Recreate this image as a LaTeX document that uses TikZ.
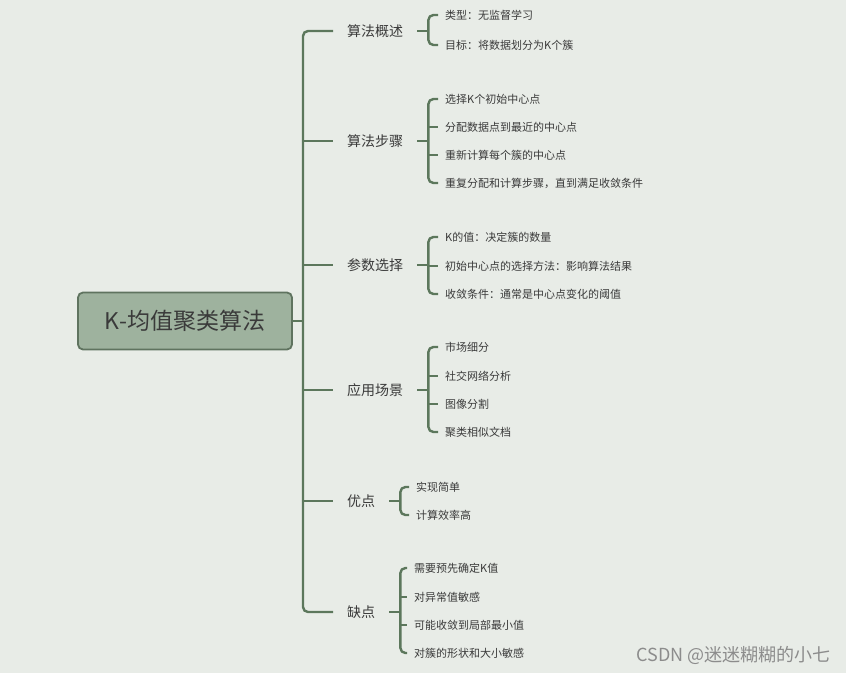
\documentclass[tikz,border=0pt]{standalone}
\usepackage{fontspec}
\setmainfont{Noto Sans CJK SC}
\definecolor{bgC}{HTML}{E8ECE7}
\definecolor{lineC}{HTML}{5C775C}
\definecolor{rootF}{HTML}{9EB29E}
\definecolor{rootD}{HTML}{5F735F}
\definecolor{txtC}{HTML}{3A3A3A}
\begin{document}
\begin{tikzpicture}[x=1pt,y=-1pt,
  br/.style={draw=lineC, line width=2.4pt, rounded corners=5pt},
  mainlbl/.style={anchor=west, inner sep=0pt, font=\fontsize{14}{16}\selectfont, text=txtC},
  leaf/.style={anchor=west, inner sep=0pt, font=\fontsize{11}{13}\selectfont, text=txtC},
  rootbox/.style={draw=rootD, line width=1.8pt, fill=rootF, rounded corners=5pt, minimum width=214pt, minimum height=57pt, font=\fontsize{23}{26}\selectfont, text=txtC}]
\fill[bgC] (0,0) rectangle (846,673);
\useasboundingbox (0,0) rectangle (846,673);

% root
\node[rootbox] (r) at (185,321) {K-均值聚类算法};
\coordinate (tt) at (303,321);

% main labels
\node[mainlbl] (m1) at (347,31) {算法概述};
\node[mainlbl] (m2) at (347,141) {算法步骤};
\node[mainlbl] (m3) at (347,265) {参数选择};
\node[mainlbl] (m4) at (347,390) {应用场景};
\node[mainlbl] (m5) at (347,501) {优点};
\node[mainlbl] (m6) at (347,612) {缺点};
\foreach \i in {1,...,6} {\coordinate (m\i s) at ([xshift=-14pt]m\i.west);}

% trunk
\draw[br] (r.east) -- (tt);
\draw[br] (m1s) -| (tt |- m6s) -- (m6s);
\foreach \i in {2,3,4,5} {\draw[br] (tt |- m\i s) -- (m\i s);}

% leaves group 1
\node[leaf] (a1) at (445,15) {类型：无监督学习};
\node[leaf] (a2) at (445,45) {目标：将数据划分为K个簇};
% group 2
\node[leaf] (b1) at (445,99) {选择K个初始中心点};
\node[leaf] (b2) at (445,127) {分配数据点到最近的中心点};
\node[leaf] (b3) at (445,155) {重新计算每个簇的中心点};
\node[leaf] (b4) at (445,183) {重复分配和计算步骤，直到满足收敛条件};
% group 3
\node[leaf] (c1) at (445,237) {K的值：决定簇的数量};
\node[leaf] (c2) at (445,266) {初始中心点的选择方法：影响算法结果};
\node[leaf] (c3) at (445,294) {收敛条件：通常是中心点变化的阈值};
% group 4
\node[leaf] (d1) at (445,347) {市场细分};
\node[leaf] (d2) at (445,376) {社交网络分析};
\node[leaf] (d3) at (445,404) {图像分割};
\node[leaf] (d4) at (445,432) {聚类相似文档};
% group 5
\node[leaf] (e1) at (416,487) {实现简单};
\node[leaf] (e2) at (416,515) {计算效率高};
% group 6
\node[leaf] (f1) at (414,568) {需要预先确定K值};
\node[leaf] (f2) at (414,597) {对异常值敏感};
\node[leaf] (f3) at (414,625) {可能收敛到局部最小值};
\node[leaf] (f4) at (414,653) {对簇的形状和大小敏感};

% bracket coordinates
\coordinate (k1) at ([xshift=25pt]m1.east);
\coordinate (k2) at ([xshift=25pt]m2.east);
\coordinate (k3) at ([xshift=25pt]m3.east);
\coordinate (k4) at ([xshift=25pt]m4.east);
\coordinate (k5) at ([xshift=25pt]m5.east);
\coordinate (k6) at ([xshift=25pt]m6.east);

% group 1 brackets
\draw[br] ([xshift=14pt]m1.east) -- (k1);
\draw[br] ([xshift=-7pt]a1.west) -| (k1 |- a2.west) -- ([xshift=-7pt]a2.west);
% group 2
\draw[br] ([xshift=14pt]m2.east) -- (k2);
\draw[br] ([xshift=-7pt]b1.west) -| (k2 |- b4.west) -- ([xshift=-7pt]b4.west);
\draw[br] (k2 |- b2.west) -- ([xshift=-7pt]b2.west);
\draw[br] (k2 |- b3.west) -- ([xshift=-7pt]b3.west);
% group 3
\draw[br] ([xshift=14pt]m3.east) -- (k3);
\draw[br] ([xshift=-7pt]c1.west) -| (k3 |- c3.west) -- ([xshift=-7pt]c3.west);
\draw[br] (k3 |- c2.west) -- ([xshift=-7pt]c2.west);
% group 4
\draw[br] ([xshift=14pt]m4.east) -- (k4);
\draw[br] ([xshift=-7pt]d1.west) -| (k4 |- d4.west) -- ([xshift=-7pt]d4.west);
\draw[br] (k4 |- d2.west) -- ([xshift=-7pt]d2.west);
\draw[br] (k4 |- d3.west) -- ([xshift=-7pt]d3.west);
% group 5
\draw[br] ([xshift=14pt]m5.east) -- (k5);
\draw[br] ([xshift=-7pt]e1.west) -| (k5 |- e2.west) -- ([xshift=-7pt]e2.west);
% group 6
\draw[br] ([xshift=14pt]m6.east) -- (k6);
\draw[br] ([xshift=-7pt]f1.west) -| (k6 |- f4.west) -- ([xshift=-7pt]f4.west);
\draw[br] (k6 |- f2.west) -- ([xshift=-7pt]f2.west);
\draw[br] (k6 |- f3.west) -- ([xshift=-7pt]f3.west);

% watermark
\node[anchor=east, inner sep=0pt, font=\fontsize{18}{20}\selectfont, text=black!45] (wm) at (831,655) {CSDN @迷迷糊糊的小七};
\end{tikzpicture}
\end{document}
